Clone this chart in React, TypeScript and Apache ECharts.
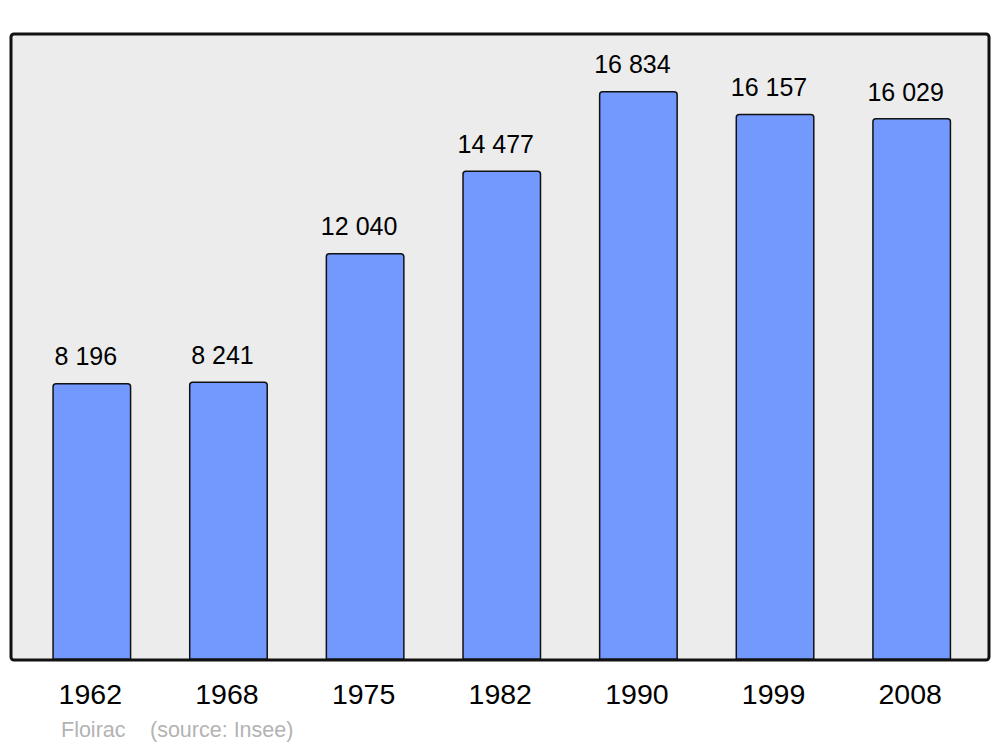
import React, { useEffect, useRef } from "react";
import * as echarts from "echarts";

const years = ["1962", "1968", "1975", "1982", "1990", "1999", "2008"];
const population = [8196, 8241, 12040, 14477, 16834, 16157, 16029];
const captionTown = "Floirac";
const captionSource = "(source: Insee)";

const fmt = (v: number) => String(v).replace(/\B(?=(\d{3})+(?!\d))/g, " ");

export default function App() {
  const ref = useRef<HTMLDivElement>(null);
  useEffect(() => {
    if (!ref.current) return;
    const chart = echarts.init(ref.current, null, { renderer: "svg" });
    chart.setOption({
      animation: false,
      backgroundColor: "#ffffff",
      grid: { left: 23.5, right: 20, top: 34, bottom: 87 },
      xAxis: {
        type: "category",
        data: years,
        axisLine: { show: false },
        axisTick: { show: false },
        axisLabel: {
          color: "#000",
          fontSize: 28.5,
          fontFamily: "Liberation Sans, Arial, sans-serif",
          margin: 19,
          padding: [0, 3, 0, 0],
        },
      },
      yAxis: {
        type: "value",
        min: 0,
        max: Math.max(...population) * 1.1,
        show: false,
        splitLine: { show: false },
      },
      graphic: [
        {
          type: "rect",
          z: -10,
          shape: { x: 11, y: 34, width: 978, height: 626, r: 3 },
          style: { fill: "#ececec", stroke: "none" },
        },
        {
          type: "rect",
          z: 100,
          shape: { x: 11, y: 34, width: 978, height: 626, r: 3 },
          style: { fill: "none", stroke: "#111", lineWidth: 3 },
        },
        {
          type: "text",
          x: 61,
          y: 730,
          style: {
            text: captionTown,
            fill: "#b3b3b3",
            fontSize: 21.5,
            fontFamily: "Liberation Sans, Arial, sans-serif",
            verticalAlign: "middle",
          },
        },
        {
          type: "text",
          x: 150,
          y: 730,
          style: {
            text: captionSource,
            fill: "#b3b3b3",
            fontSize: 21.5,
            fontFamily: "Liberation Sans, Arial, sans-serif",
            verticalAlign: "middle",
          },
        },
      ],
      series: [
        {
          type: "bar",
          data: population,
          barWidth: 79,
          itemStyle: {
            color: "#7399ff",
            borderColor: "#111",
            borderWidth: 1.5,
            borderRadius: [3, 3, 0, 0],
          },
          label: {
            show: true,
            position: "top",
            distance: 14,
            offset: [-6, 0],
            color: "#000",
            fontSize: 25,
            fontFamily: "Liberation Sans, Arial, sans-serif",
            formatter: (p: any) => fmt(p.value),
          },
        },
      ],
    });
    return () => chart.dispose();
  }, []);
  return <div ref={ref} style={{ width: 1000, height: 747, position: "absolute", left: 0, top: 0 }} />;
}
